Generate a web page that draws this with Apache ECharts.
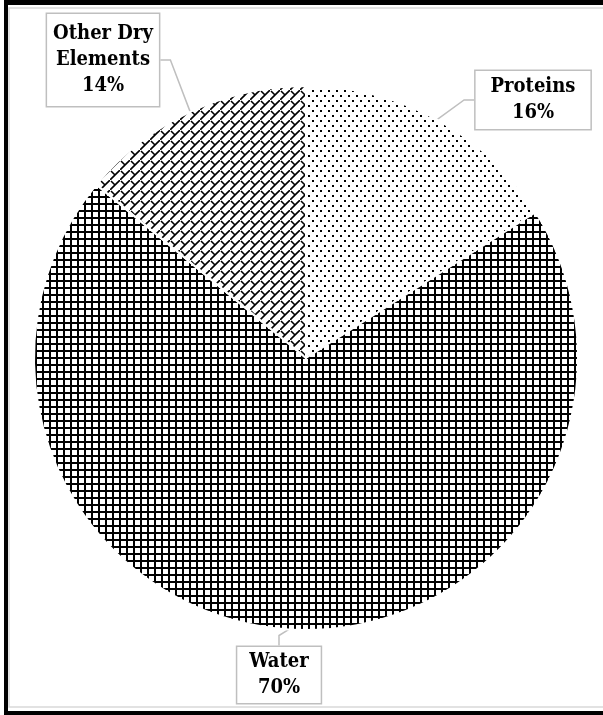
<!DOCTYPE html>
<html>
<head>
<meta charset="utf-8">
<script src="https://cdn.jsdelivr.net/npm/echarts@6/dist/echarts.min.js"></script>
<style>
  body { margin: 0; background: #fff; }
  #chart { width: 603px; height: 715px; }
</style>
</head>
<body>
<div id="chart"></div>
<script>
// chart data
const categories = ['Proteins', 'Water', 'Other Dry\nElements']
const values = [16, 70, 14]

// little canvas tiles for the fill patterns
function tile (w, h, draw) {
  const c = document.createElement('canvas')
  c.width = w
  c.height = h
  const ctx = c.getContext('2d')
  ctx.fillStyle = '#fff'
  ctx.fillRect(0, 0, w, h)
  ctx.fillStyle = '#000'
  ctx.strokeStyle = '#000'
  draw(ctx)
  return { image: c, repeat: 'repeat' }
}

const dots = tile(8, 10, ctx => {
  ctx.fillRect(0, 0, 2, 2)
  ctx.fillRect(4, 5, 2, 2)
})
const grid = tile(7, 7, ctx => {
  ctx.fillRect(0, 0, 7, 2)
  ctx.fillRect(0, 0, 2, 7)
})
const brick = tile(10, 10, ctx => {
  ctx.lineWidth = 1.6
  ctx.beginPath()
  ctx.moveTo(-1, 11); ctx.lineTo(11, -1)
  ctx.moveTo(5, 5); ctx.lineTo(1, 1)
  ctx.stroke()
})
const patterns = [dots, grid, brick]

// where the label boxes sit
const labelPos = [[533, 100], [279, 675], [103, 60]]
const labelPad = [[3, 15], [2, 12], [7, 6]]

const chart = echarts.init(document.getElementById('chart'))
chart.setOption({
  animation: false,
  graphic: [
    { type: 'rect', shape: { x: 4, y: 0, width: 599, height: 5 }, style: { fill: '#000' } },
    { type: 'rect', shape: { x: 4, y: 0, width: 4, height: 715 }, style: { fill: '#000' } },
    { type: 'rect', shape: { x: 4, y: 711, width: 599, height: 4 }, style: { fill: '#000' } },
    { type: 'rect', shape: { x: 9, y: 8, width: 600, height: 699 }, style: { fill: 'none', stroke: '#d9d9d9', lineWidth: 1.5 } }
  ],
  series: [{
    type: 'pie',
    center: [306, 358],
    radius: 272,
    startAngle: 90,
    clockwise: true,
    data: categories.map((name, i) => ({
      name: name,
      value: values[i],
      itemStyle: { color: patterns[i] },
      label: { padding: labelPad[i] }
    })),
    itemStyle: { borderColor: '#fff', borderWidth: 2 },
    label: {
      show: true,
      position: 'outside',
      formatter: p => p.name + '\n' + Math.round(p.percent) + '%',
      fontFamily: '"DejaVu Serif Condensed", "DejaVu Serif"',
      fontWeight: 'bold',
      fontSize: 20,
      lineHeight: 26,
      color: '#000',
      align: 'center',
      backgroundColor: '#fff',
      borderColor: '#bfbfbf',
      borderWidth: 1.5
    },
    labelLine: {
      show: true,
      length: 10,
      length2: 10,
      lineStyle: { color: '#bfbfbf', width: 1.5 }
    },
    labelLayout: params => ({
      x: labelPos[params.dataIndex][0],
      y: labelPos[params.dataIndex][1],
      align: 'center',
      verticalAlign: 'middle'
    }),
    emphasis: { disabled: true }
  }]
})
</script>
</body>
</html>
